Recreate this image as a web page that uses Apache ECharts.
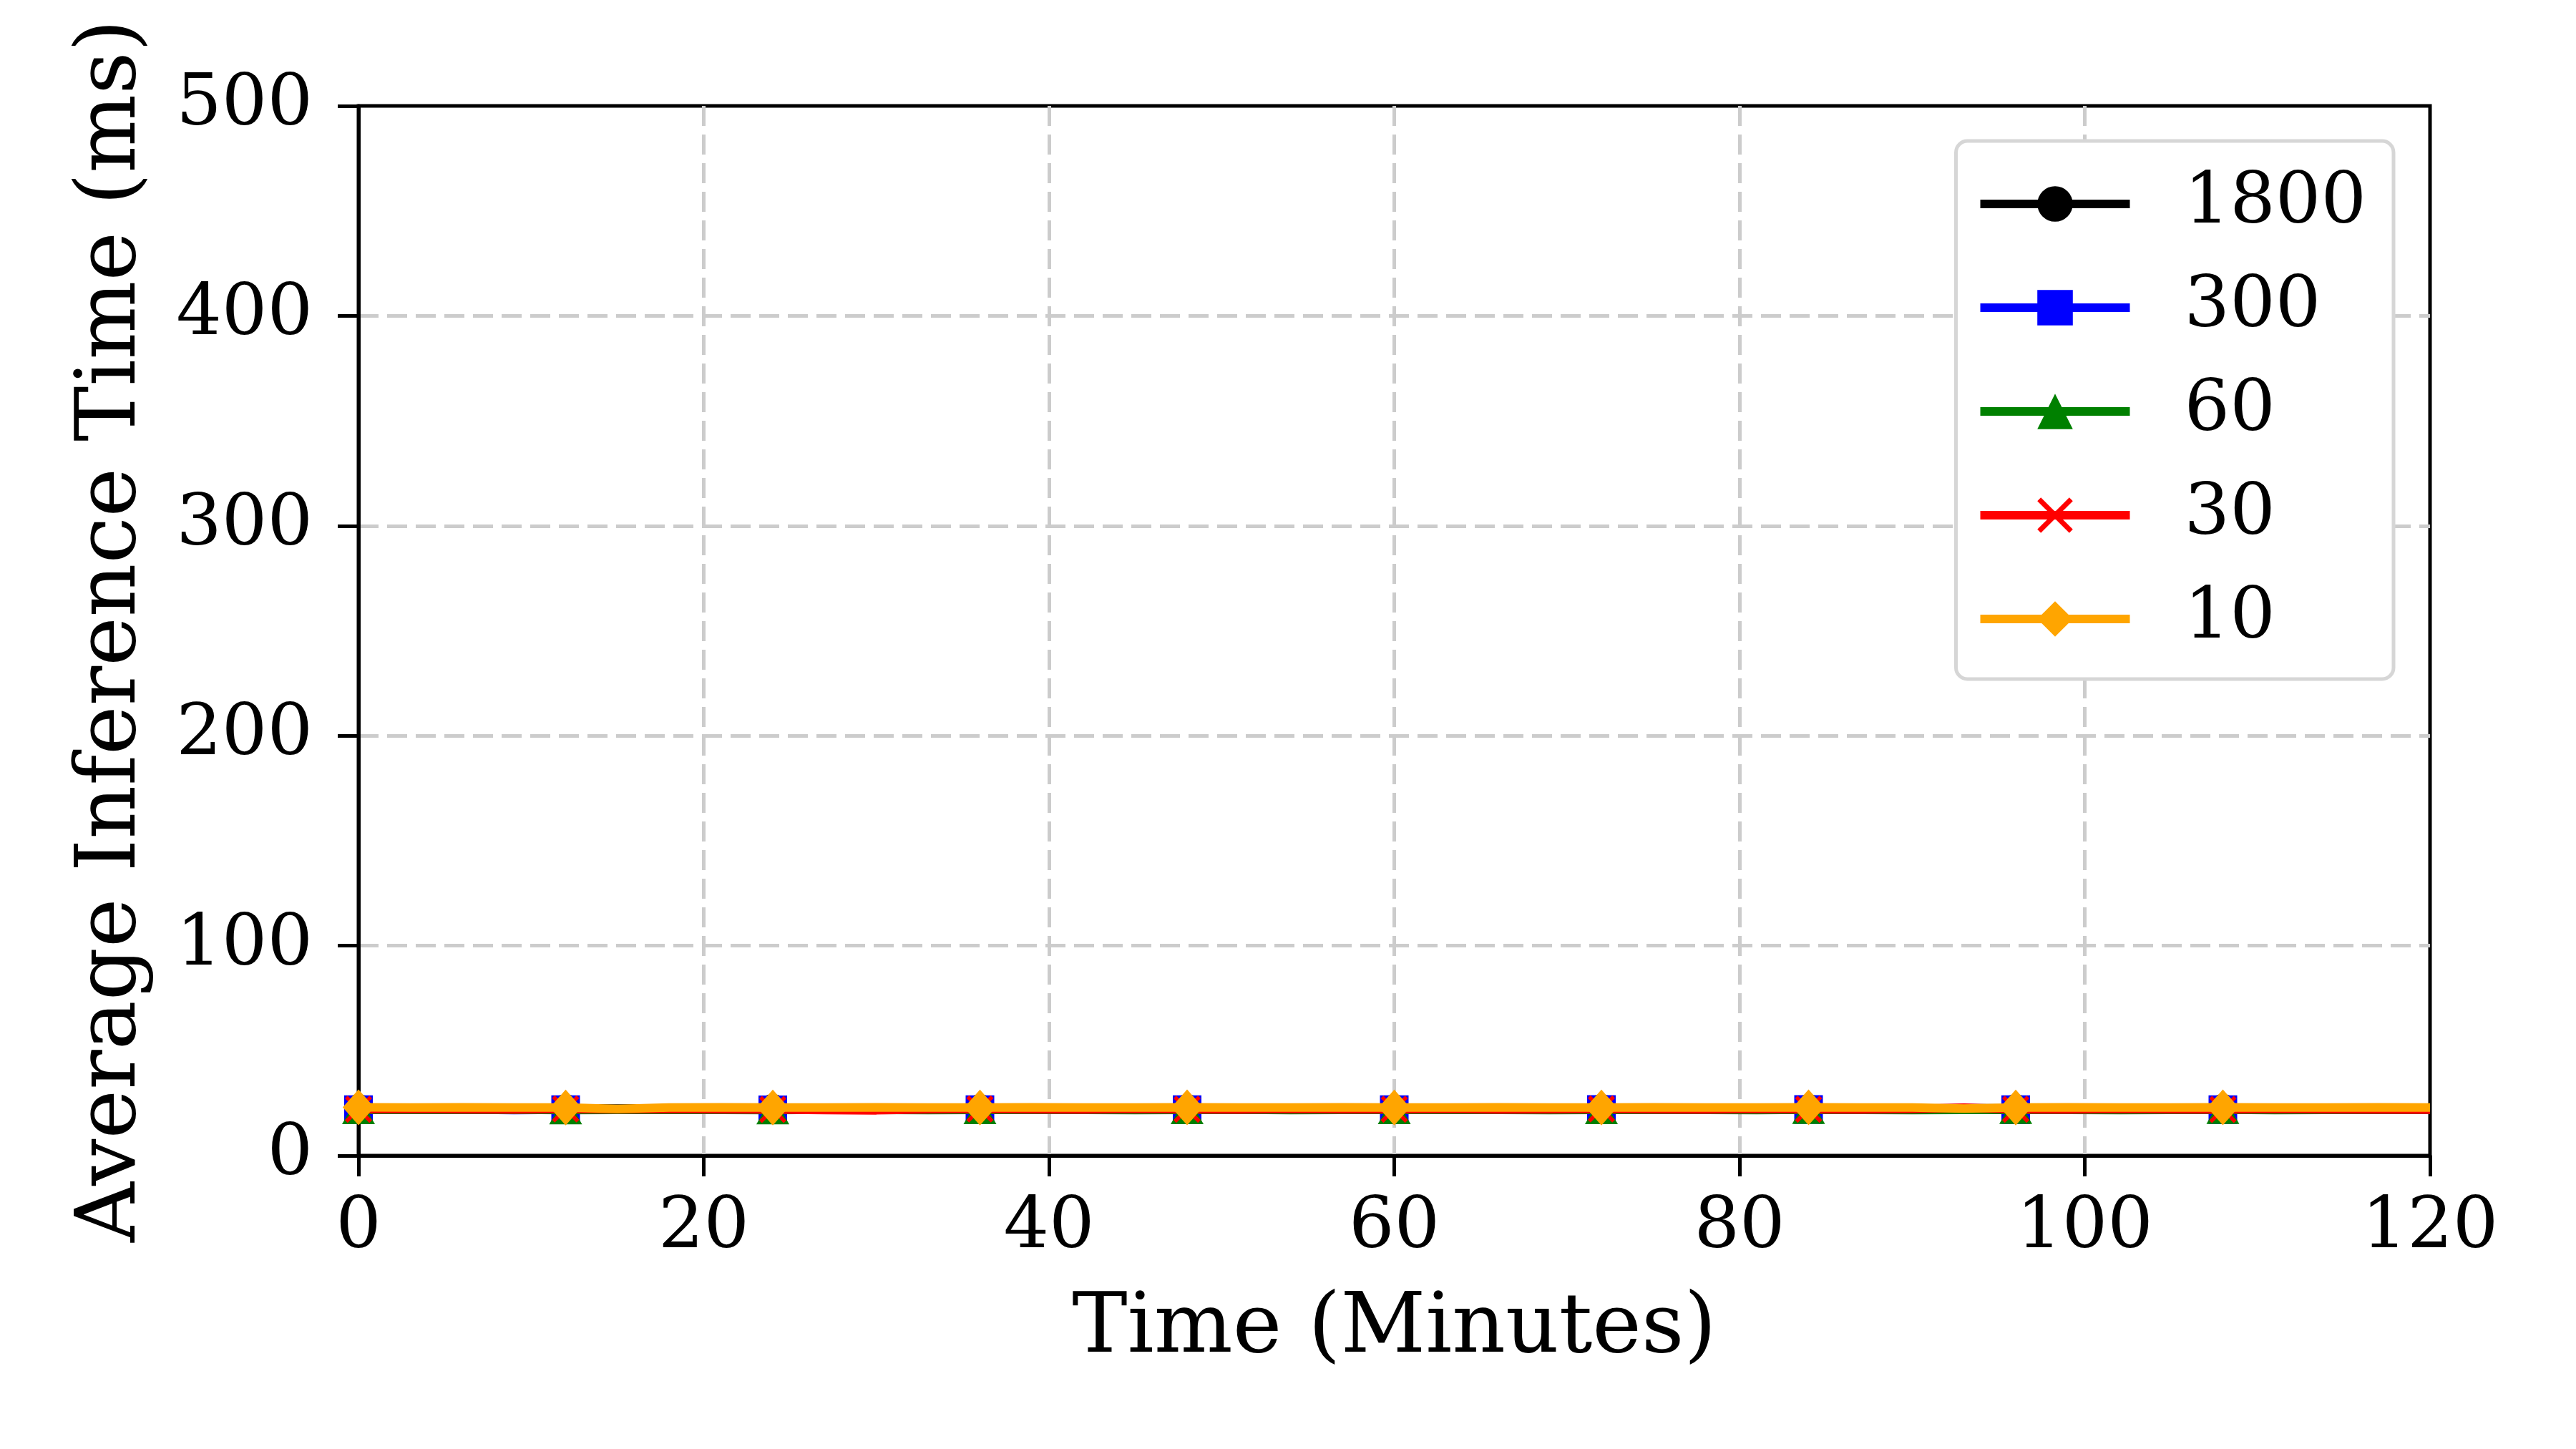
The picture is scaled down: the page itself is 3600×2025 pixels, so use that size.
<!DOCTYPE html>
<html>
<head>
<meta charset="utf-8">
<script src="https://cdn.jsdelivr.net/npm/echarts@6/dist/echarts.min.js"></script>
<style>
html,body{margin:0;padding:0;background:#fff;}
#chart{width:3600px;height:2025px;}
</style>
</head>
<body>
<div id="chart"></div>
<script>
// ---- data (minutes, ms) ----
const times = [0,3,6,9,12,15,18,21,24,27,30,33,36,39,42,45,48,51,54,57,60,63,66,69,72,75,78,81,84,87,90,93,96,99,102,105,108,111,114,117,120];
const markerTimes = [0,12,24,36,48,60,72,84,96,108];
const seriesNames = ['1800','300','60','30','10'];
const s1800 = [22.5,22.4,22.5,22.6,22.5,22.4,22.5,22.5,22.6,22.5,22.4,22.5,22.5,22.6,22.5,22.4,22.5,22.6,22.5,22.5,22.4,22.5,22.6,22.5,22.5,22.4,22.5,22.6,22.5,21.8,22.4,22.6,22.5,22.4,22.5,22.5,22.6,22.5,22.4,22.5,22.5];
const s300  = [21.9,21.8,22.0,21.7,21.9,21.8,22.0,21.9,21.8,21.9,22.0,21.8,21.9,22.0,21.9,21.8,21.9,22.0,21.8,21.9,21.9,22.0,21.8,21.9,22.0,21.9,21.8,21.9,22.0,21.9,21.8,22.0,21.9,21.8,21.9,22.0,21.9,21.8,21.9,22.0,21.9];
const s60   = [21.8,21.9,21.8,21.9,21.7,21.8,21.9,21.8,21.7,21.9,21.8,21.7,21.8,21.9,21.8,21.7,21.8,21.9,21.7,21.8,21.8,21.9,21.8,21.7,21.8,21.9,21.8,21.7,21.9,21.8,21.7,21.8,21.9,21.8,21.7,21.8,21.9,21.7,21.8,21.9,21.8];
const s30   = [22.1,22.2,22.1,22.0,22.2,22.1,22.2,22.1,22.0,21.7,21.6,22.1,22.2,22.1,22.0,22.2,22.1,22.0,22.2,22.1,22.1,22.2,22.0,22.1,22.2,22.1,22.0,22.2,22.1,22.0,22.2,22.8,22.1,22.0,22.2,22.1,22.0,22.2,22.1,22.0,21.9];
const s10   = [23.0,22.9,23.0,22.9,22.9,22.2,22.9,23.0,22.9,22.9,23.0,22.9,22.9,23.0,22.9,22.9,23.0,22.9,22.9,23.0,22.9,22.9,23.0,22.9,22.9,23.0,22.9,22.9,23.0,22.9,22.9,22.4,22.9,23.0,22.9,22.9,23.0,22.9,22.9,23.0,22.9];
const yTicks = [0,100,200,300,400,500];
const xTicks = [0,20,40,60,80,100,120];

const FONT = 'DejaVu Serif';
const colors = ['#000000','#0000ff','#008000','#ff0000','#ffa500'];
const symbols = ['circle','rect','triangle','path://M0,2 L2,0 L10,8 L18,0 L20,2 L12,10 L20,18 L18,20 L10,12 L2,20 L0,18 L8,10 Z','diamond'];
const symSizes = [[40,40],[40,40],[46,40],[38,38],[44,50]];
const values = [s1800, s300, s60, s30, s10];

const series = values.map((vals, k) => ({
  name: seriesNames[k],
  type: 'line',
  data: times.map((t, i) => [t, vals[i]]),
  symbol: symbols[k],
  symbolSize: function (v) { return markerTimes.indexOf(v[0]) >= 0 ? symSizes[k] : 0; },
  showAllSymbol: true,
  showSymbol: true,
  clip: true,
  lineStyle: { color: colors[k], width: 12 },
  itemStyle: { color: colors[k], borderWidth: 0 },
  z: 3 + k,
  emphasis: { disabled: true }
}));

const axisCommon = {
  axisLine: { show: true, lineStyle: { color: '#000', width: 5 } },
  axisTick: { show: true, inside: false, length: 29, lineStyle: { color: '#000', width: 5 } },
  splitLine: { show: true, showMinLine: false, showMaxLine: false, lineStyle: { color: '#cccccc', width: 5, type: [28, 12] } },
  nameTextStyle: { fontFamily: FONT, fontSize: 116, color: '#000' },
  nameLocation: 'middle'
};

const chart = echarts.init(document.getElementById('chart'), null, { renderer: 'canvas' });
chart.setOption({
  animation: false,
  backgroundColor: '#ffffff',
  grid: {
    left: 501, right: 204, top: 148, bottom: 410,
    containLabel: false,
    show: true, borderColor: '#000', borderWidth: 5, backgroundColor: 'transparent'
  },
  xAxis: Object.assign({}, axisCommon, {
    type: 'value', min: xTicks[0], max: xTicks[xTicks.length - 1], interval: 20,
    name: 'Time (Minutes)', nameGap: 186,
    axisLabel: { fontFamily: FONT, fontSize: 100, color: '#000', margin: 52 }
  }),
  yAxis: Object.assign({}, axisCommon, {
    type: 'value', min: yTicks[0], max: yTicks[yTicks.length - 1], interval: 100,
    name: 'Average Inference Time (ms)', nameGap: 285,
    axisLabel: { fontFamily: FONT, fontSize: 100, color: '#000', margin: 64 }
  }),
  legend: {
    show: true,
    orient: 'vertical',
    right: 255, top: 197,
    data: seriesNames,
    itemWidth: 209, itemHeight: 62, itemGap: 45,
    padding: [38, 38, 34, 28],
    backgroundColor: '#ffffff',
    borderColor: '#d6d6d6', borderWidth: 5, borderRadius: 16,
    lineStyle: { width: 12 },
    textStyle: { fontFamily: FONT, fontSize: 100, color: '#000', lineHeight: 100, padding: [0, 0, 0, 71] },
    selectedMode: false
  },
  series: series
});
</script>
</body>
</html>
